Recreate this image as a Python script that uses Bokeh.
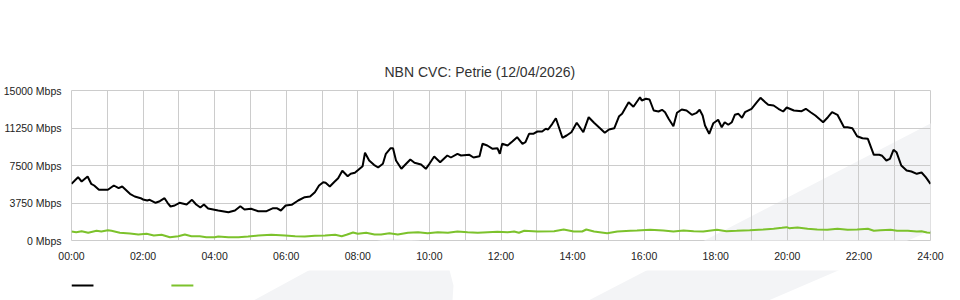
from bokeh.plotting import figure
from bokeh.layouts import column
from bokeh.models import FixedTicker, Range1d, PolyAnnotation
from bokeh.embed import file_html
from bokeh.resources import INLINE

title_text = "NBN CVC: Petrie (12/04/2026)"
y_ticks = [0, 3750, 7500, 11250, 15000]
y_tick_labels = ["0 Mbps", "3750 Mbps", "7500 Mbps", "11250 Mbps", "15000 Mbps"]
x_ticks = [0, 2, 4, 6, 8, 10, 12, 14, 16, 18, 20, 22, 24]
x_tick_labels = ["00:00", "02:00", "04:00", "06:00", "08:00", "10:00", "12:00",
                 "14:00", "16:00", "18:00", "20:00", "22:00", "24:00"]

# minutes after midnight, Mbps (black series)
down_min = [0, 11, 17, 27, 33, 38, 46, 61, 71, 79, 85, 98, 106, 116, 120, 127, 131, 141,
            148, 156, 161, 166, 173, 181, 193, 202, 209, 216, 222, 229, 246, 263, 274,
            283, 290, 301, 313, 327, 338, 344, 351, 359, 369, 380, 391, 400, 408, 415,
            422, 426, 433, 440, 447, 454, 463, 468, 475, 481, 488, 492, 499, 507, 514,
            522, 527, 535, 539, 544, 553, 561, 568, 575, 586, 594, 600, 608, 618, 630,
            636, 647, 653, 667, 674, 684, 689, 697, 706, 714, 718, 722, 731, 739, 747,
            756, 761, 767, 774, 781, 789, 795, 799, 806, 812, 823, 830, 838, 847, 858,
            867, 876, 886, 894, 901, 910, 918, 923, 934, 942, 953, 956, 963, 969, 976,
            984, 990, 995, 1001, 1009, 1015, 1023, 1031, 1040, 1048, 1053, 1058, 1062,
            1069, 1076, 1084, 1090, 1095, 1101, 1107, 1112, 1118, 1124, 1129, 1140,
            1149, 1155, 1163, 1168, 1177, 1185, 1193, 1199, 1211, 1224, 1231, 1239,
            1247, 1260, 1268, 1275, 1284, 1295, 1301, 1309, 1317, 1326, 1335, 1345,
            1354, 1359, 1366, 1372, 1378, 1383, 1391, 1400, 1408, 1417, 1425, 1432, 1440]
down_mbps = [5670, 6330, 5900, 6400, 5670, 5500, 5070, 5070, 5500, 5230, 5400, 4670, 4400,
             4230, 4100, 4000, 4070, 3770, 3930, 4230, 3770, 3400, 3500, 3770, 3600, 4070,
             3600, 3300, 3600, 3200, 3000, 2830, 3000, 3430, 3100, 3170, 2930, 2930, 3230,
             3230, 3000, 3500, 3570, 4000, 4330, 4400, 4830, 5500, 5830, 5770, 5400, 5830,
             6230, 6970, 6430, 6670, 6770, 7070, 7430, 8770, 8000, 7570, 7300, 7670, 8670,
             9230, 9230, 8000, 7170, 7670, 8100, 7770, 7600, 7170, 7670, 8400, 7830, 8500,
             8300, 8670, 8500, 8570, 8300, 8430, 9670, 9500, 9170, 9230, 8670, 9670, 9500,
             9900, 10330, 9670, 9830, 10670, 10670, 10900, 10900, 11170, 11100, 11670,
             12230, 10270, 10500, 10830, 11770, 10830, 12330, 11770, 11230, 10770, 11100,
             11230, 12430, 12670, 13830, 13370, 14330, 14000, 14170, 14100, 13000, 12900,
             13070, 12830, 12170, 11430, 12770, 13100, 13000, 12570, 12770, 13070, 12500,
             11500, 10670, 11730, 12070, 11330, 11830, 11570, 11830, 12570, 12670, 12270,
             12830, 13170, 13830, 14270, 13830, 13570, 13500, 13170, 12900, 13300, 13000,
             12930, 13170, 12830, 12500, 11830, 12330, 12830, 12570, 11330, 11330, 11230,
             10430, 10230, 10170, 8570, 8570, 8470, 8000, 8170, 9070, 8830, 7500, 7000,
             6900, 6670, 6800, 6330, 5670]

# minutes after midnight, Mbps (green series)
up_min = [0, 8, 17, 28, 42, 50, 61, 67, 81, 98, 112, 126, 138, 151, 165, 179, 190, 201,
          215, 226, 240, 246, 263, 280, 296, 313, 335, 358, 375, 391, 408, 425, 442, 453,
          461, 472, 480, 494, 508, 519, 533, 547, 564, 581, 597, 614, 631, 647, 664, 681,
          698, 714, 731, 742, 750, 759, 781, 809, 825, 842, 856, 863, 876, 898, 915, 937,
          948, 970, 992, 1009, 1026, 1043, 1059, 1082, 1098, 1115, 1137, 1160, 1177, 1191,
          1199, 1203, 1217, 1234, 1250, 1267, 1284, 1301, 1317, 1335, 1345, 1356, 1373,
          1384, 1402, 1417, 1425, 1434, 1440]
up_mbps = [900, 830, 930, 770, 970, 900, 1030, 970, 770, 700, 600, 670, 500, 570, 330, 430,
           600, 430, 430, 330, 330, 400, 330, 330, 400, 500, 570, 500, 430, 400, 470, 500,
           570, 430, 570, 800, 670, 770, 600, 600, 730, 600, 770, 830, 730, 830, 770, 900,
           830, 770, 830, 870, 830, 900, 770, 970, 900, 930, 1100, 900, 900, 1100, 900, 730,
           900, 970, 1000, 1070, 1000, 900, 1000, 930, 900, 1070, 930, 970, 1030, 1100,
           1170, 1270, 1330, 1230, 1300, 1170, 1100, 1070, 1170, 1070, 1100, 1170, 970,
           1030, 1070, 970, 970, 900, 930, 800, 770]

down_h = [m / 60 for m in down_min]
up_h = [m / 60 for m in up_min]

FONT = "Liberation Sans"
GRID = "#cccccc"
SHADE = "#f3f4f6"
GREEN = "#7cc22c"
BLACK = "#000000"

# main chart occupies page rows 0..270, legend strip rows 270..300
MAIN_H, STRIP_H, PAGE_W = 270, 30, 960
FRAME_LEFT, FRAME_RIGHT, FRAME_BOTTOM = 70, 930, 240

# decorative background shapes in page pixels (x right, y down)
band_x, band_y = [587, 960, 960, 767], [300, 107, 217, 300]
blob_x = [252, 320, 345, 387, 417, 437, 445, 452, 451]
blob_y = [300, 263, 247, 238, 240, 245, 258, 285, 300]

# legend keys (no series names in the original): left edge, colour
key_left = [70, 170]
key_color = [BLACK, GREEN]
KEY_W, KEY_Y = 22, 285


def shade(fig, xs, ys, left, bottom):
    fig.add_layout(PolyAnnotation(xs=[x - left for x in xs], ys=[bottom - y for y in ys],
                                  xs_units="screen", ys_units="screen",
                                  fill_color=SHADE, fill_alpha=1, line_color=None,
                                  level="image"))


p = figure(width=PAGE_W, height=MAIN_H, output_backend="svg", toolbar_location=None,
           x_range=Range1d(0, 24), y_range=Range1d(0, 15000),
           min_border_left=FRAME_LEFT, min_border_right=PAGE_W - FRAME_RIGHT,
           min_border_top=90, min_border_bottom=MAIN_H - FRAME_BOTTOM,
           background_fill_color=None, border_fill_color="white",
           outline_line_color=GRID)
shade(p, band_x, band_y, FRAME_LEFT, FRAME_BOTTOM)
shade(p, blob_x, blob_y, FRAME_LEFT, FRAME_BOTTOM)

p.title.text = title_text
p.title.align = "left"
p.title.offset = 313
p.title.standoff = 22
p.title.text_font = FONT
p.title.text_font_size = "14px"
p.title.text_font_style = "normal"
p.title.text_color = "#333333"

p.xaxis.ticker = FixedTicker(ticks=x_ticks)
p.xaxis.major_label_overrides = {t: l for t, l in zip(x_ticks, x_tick_labels)}
p.yaxis.ticker = FixedTicker(ticks=y_ticks)
p.yaxis.major_label_overrides = {t: l for t, l in zip(y_ticks, y_tick_labels)}
for ax in (p.xaxis, p.yaxis):
    ax.axis_line_color = None
    ax.major_tick_line_color = None
    ax.minor_tick_line_color = None
    ax.major_tick_out = 0
    ax.major_tick_in = 0
    ax.minor_tick_out = 0
    ax.minor_tick_in = 0
    ax.major_label_text_font = FONT
    ax.major_label_text_font_size = "10.5px"
    ax.major_label_text_color = "#222222"
p.xaxis.major_label_standoff = 9
p.yaxis.major_label_standoff = 10

p.xgrid.ticker = FixedTicker(ticks=list(range(25)))
p.xgrid.grid_line_color = GRID
p.ygrid.grid_line_color = GRID

p.line(down_h, down_mbps, line_color=BLACK, line_width=2)
p.line(up_h, up_mbps, line_color=GREEN, line_width=2)

# legend strip below the chart; its frame is aligned with the chart frame,
# so its x range is expressed in page pixels over that frame
strip = figure(width=PAGE_W, height=STRIP_H, output_backend="svg", toolbar_location=None,
               x_range=Range1d(FRAME_LEFT, FRAME_RIGHT),
               y_range=Range1d(MAIN_H + STRIP_H, MAIN_H),
               x_axis_location=None, y_axis_location=None, min_border=0,
               background_fill_color=None, border_fill_color="white",
               outline_line_color=None)
strip.xgrid.visible = False
strip.ygrid.visible = False
shade(strip, band_x, band_y, FRAME_LEFT, MAIN_H + STRIP_H)
shade(strip, blob_x, blob_y, FRAME_LEFT, MAIN_H + STRIP_H)
strip.segment(x0=key_left, x1=[x + KEY_W for x in key_left],
              y0=[KEY_Y] * len(key_left), y1=[KEY_Y] * len(key_left),
              line_color=key_color, line_width=2)

layout = column(p, strip, spacing=0)
open("out.html", "w").write(file_html(layout, INLINE))
